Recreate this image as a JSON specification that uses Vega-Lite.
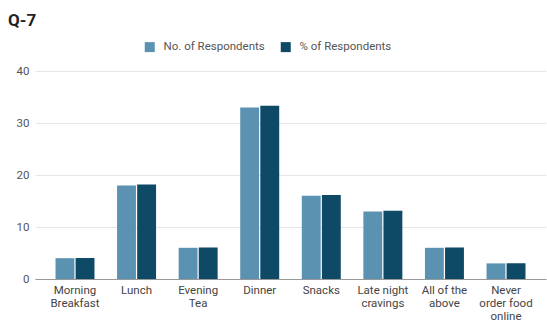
{
  "$schema": "https://vega.github.io/schema/vega-lite/v6.json",
  "width": 511,
  "height": 208,
  "autosize": {"type": "none"},
  "padding": {"left": 35, "top": 71, "right": 1, "bottom": 46},
  "background": "white",
  "title": {
    "text": "Q-7",
    "anchor": "start",
    "frame": "group",
    "orient": "top",
    "baseline": "top",
    "dx": -27,
    "dy": 0,
    "offset": 11,
    "font": "Roboto",
    "fontSize": 17,
    "fontWeight": "bold",
    "color": "#222222"
  },
  "data": {
    "values": [
      {"meal": "Morning Breakfast", "series": "No. of Respondents", "value": 4},
      {"meal": "Morning Breakfast", "series": "% of Respondents", "value": 4.04},
      {"meal": "Lunch", "series": "No. of Respondents", "value": 18},
      {"meal": "Lunch", "series": "% of Respondents", "value": 18.18},
      {"meal": "Evening Tea", "series": "No. of Respondents", "value": 6},
      {"meal": "Evening Tea", "series": "% of Respondents", "value": 6.06},
      {"meal": "Dinner", "series": "No. of Respondents", "value": 33},
      {"meal": "Dinner", "series": "% of Respondents", "value": 33.33},
      {"meal": "Snacks", "series": "No. of Respondents", "value": 16},
      {"meal": "Snacks", "series": "% of Respondents", "value": 16.16},
      {"meal": "Late night cravings", "series": "No. of Respondents", "value": 13},
      {"meal": "Late night cravings", "series": "% of Respondents", "value": 13.13},
      {"meal": "All of the above", "series": "No. of Respondents", "value": 6},
      {"meal": "All of the above", "series": "% of Respondents", "value": 6.06},
      {"meal": "Never order food online", "series": "No. of Respondents", "value": 3},
      {"meal": "Never order food online", "series": "% of Respondents", "value": 3.03}
    ]
  },
  "mark": {"type": "bar"},
  "encoding": {
    "x": {
      "field": "meal",
      "type": "nominal",
      "sort": null,
      "scale": {"paddingInner": 0.367, "paddingOuter": 0.333},
      "axis": {
        "title": null,
        "labelAngle": 0,
        "ticks": false,
        "domain": true,
        "domainColor": "#999999",
        "labelPadding": 5,
        "labelFont": "Roboto",
        "labelFontSize": 11.5,
        "labelColor": "#444444",
        "labelLineHeight": 13,
        "labelBaseline": "top",
        "labelExpr": "datum.value == 'Morning Breakfast' ? ['Morning', 'Breakfast'] : datum.value == 'Evening Tea' ? ['Evening', 'Tea'] : datum.value == 'Late night cravings' ? ['Late night', 'cravings'] : datum.value == 'All of the above' ? ['All of the', 'above'] : datum.value == 'Never order food online' ? ['Never', 'order food', 'online'] : datum.value"
      }
    },
    "xOffset": {
      "field": "series",
      "type": "nominal",
      "sort": ["No. of Respondents", "% of Respondents"],
      "scale": {"paddingInner": 0.06}
    },
    "y": {
      "field": "value",
      "type": "quantitative",
      "scale": {"domain": [0, 40]},
      "axis": {
        "title": null,
        "values": [0, 10, 20, 30, 40],
        "labelOverlap": false,
        "domain": false,
        "ticks": false,
        "labelPadding": 6,
        "labelFont": "Roboto",
        "labelFontSize": 11.5,
        "labelColor": "#555555",
        "gridColor": "#e6e6e6",
        "gridWidth": 1
      }
    },
    "color": {
      "field": "series",
      "type": "nominal",
      "sort": ["No. of Respondents", "% of Respondents"],
      "scale": {"domain": ["No. of Respondents", "% of Respondents"], "range": ["#5b92b1", "#0e4966"]},
      "legend": {
        "title": null,
        "orient": "none",
        "direction": "horizontal",
        "legendX": 109,
        "legendY": -30,
        "symbolType": "square",
        "symbolSize": 100,
        "symbolStrokeWidth": 0,
        "labelFont": "Roboto",
        "labelFontSize": 11.5,
        "labelColor": "#555555",
        "columnPadding": 15,
        "labelOffset": 8
      }
    }
  },
  "config": {"view": {"stroke": null}}
}
